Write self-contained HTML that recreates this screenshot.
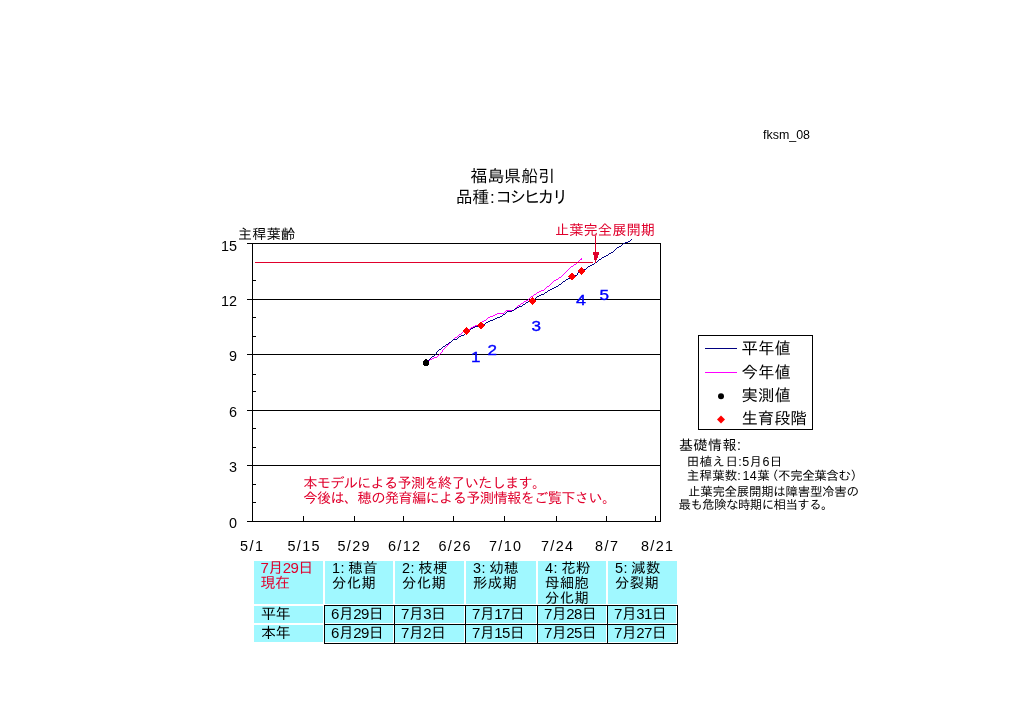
<!DOCTYPE html>
<html lang="ja">
<head>
<meta charset="utf-8">
<title>福島県船引 品種:コシヒカリ 主稈葉齢</title>
<style>
html,body{margin:0;padding:0;background:#fff;}
body{width:1024px;height:724px;overflow:hidden;position:relative;
 font-family:"Liberation Sans","IPAGothic",sans-serif;color:#000;}
svg{position:absolute;left:0;top:0;display:block;}
svg text{font-family:"Liberation Sans","IPAGothic",sans-serif;}
.ln{shape-rendering:crispEdges;stroke:#000;stroke-width:1;fill:none;}
.red{fill:#e0002c;}
.blue{fill:#0000ff;stroke:#0000ff;stroke-width:0.35;}
/* table */
.c{position:absolute;background:#a0f8ff;}
.b{position:absolute;background:#000;}
.t{position:absolute;white-space:nowrap;font-size:15px;line-height:15px;letter-spacing:-0.6px;}
.r{color:#e0002c;}
.n{display:inline-block;width:16.2px;letter-spacing:0.5px;}
.h{font-size:14.4px;letter-spacing:0.4px;}
.d{letter-spacing:-0.55px;margin-left:-1px;}
</style>
</head>
<body>
<svg width="1024" height="724" viewBox="0 0 1024 724">
<rect x="0" y="0" width="1024" height="724" fill="#ffffff"/>

<!-- header texts -->
<text x="763" y="138.6" font-size="12" textLength="47" lengthAdjust="spacingAndGlyphs">fksm_08</text>
<text x="470.5" y="182" font-size="16.8" textLength="84.5">福島県船引</text>
<text y="202.8" font-size="17"><tspan x="455.8" textLength="33.5">品種</tspan><tspan x="490">:</tspan><tspan x="495.6" textLength="73">コシヒカリ</tspan></text>
<text x="238" y="239" font-size="14" textLength="57">主稈葉齢</text>
<text class="red" x="555" y="234.5" font-size="14.3" textLength="100">止葉完全展開期</text>

<!-- grid + frame -->
<g class="ln">
<path d="M247 243.5H660.5M247 299.5H660.5M247 354.5H660.5M247 410.5H660.5M247 465.5H660.5M247 521.5H660.5"/>
<path d="M252.5 243V522M660.5 243V522"/>
<path d="M252 280.5H256M252 317.5H256M252 336.5H256M252 374.5H256M252 391.5H256M252 428.5H256M252 447.5H256M252 484.5H256M252 502.5H256"/>
<path d="M303.5 516V521M354.5 516V521M403.5 516V521M453.5 516V521M504.5 516V521M556.5 516V521M606.5 516V521M655.5 516V521"/>
</g>

<!-- y labels -->
<g font-size="14.4" text-anchor="end">
<text x="237" y="251">15</text>
<text x="237" y="306">12</text>
<text x="237" y="361">9</text>
<text x="237" y="417">6</text>
<text x="237" y="472">3</text>
<text x="237" y="528">0</text>
</g>
<!-- x labels -->
<g font-size="14.4">
<text x="240" y="551" textLength="23">5/1</text>
<text x="287.5" y="551" textLength="32">5/15</text>
<text x="337.5" y="551" textLength="32">5/29</text>
<text x="388" y="551" textLength="32">6/12</text>
<text x="438.5" y="551" textLength="32">6/26</text>
<text x="489" y="551" textLength="32">7/10</text>
<text x="541" y="551" textLength="32">7/24</text>
<text x="595" y="551" textLength="23">8/7</text>
<text x="641" y="551" textLength="32">8/21</text>
</g>

<!-- curves -->
<path class="ln" style="stroke:#ff00ff" d="M581 258.5h1M580 259.5h2M579 260.5h1M578 261.5h1M577 262.5h1M576 263.5h1M574 264.5h2M573 265.5h1M571 266.5h2M570 267.5h1M569 268.5h1M568 269.5h1M567 270.5h1M566 271.5h1M565 272.5h1M564 273.5h1M563 274.5h1M562 275.5h1M561 276.5h1M559 277.5h2M558 278.5h1M556 279.5h2M554 280.5h2M553 281.5h1M552 282.5h1M551 283.5h1M550 284.5h1M549 285.5h1M547 286.5h2M546 287.5h1M545 288.5h1M544 289.5h1M541 290.5h3M539 291.5h2M537 292.5h2M536 293.5h1M534 294.5h2M533 295.5h1M531 296.5h2M530 297.5h1M529 298.5h1M528 299.5h1M526 300.5h2M524 301.5h2M523 302.5h1M521 303.5h2M520 304.5h1M518 305.5h2M517 306.5h1M516 307.5h1M516 308.5h1M514 309.5h2M506 310.5h8M505 311.5h1M504 312.5h1M497 313.5h7M495 314.5h2M493 315.5h2M490 316.5h3M488 317.5h2M487 318.5h1M486 319.5h1M484 320.5h2M482 321.5h2M481 322.5h1M479 323.5h2M478 324.5h1M475 325.5h3M473 326.5h2M471 327.5h2M470 328.5h1M468 329.5h2M465 330.5h3M463 331.5h2M462 332.5h1M461 333.5h1M459 334.5h2M458 335.5h1M457 336.5h1M455 337.5h2M454 338.5h1M453 339.5h1M452 340.5h1M451 341.5h1M450 342.5h1M449 343.5h1M448 344.5h1M447 345.5h1M446 346.5h1M445 347.5h1M444 348.5h1M443 349.5h1M442 350.5h1M442 351.5h1M441 352.5h1M440 353.5h1M439 354.5h1M438 355.5h1M437 356.5h1M434 357.5h3M432 358.5h2M430 359.5h2M428 360.5h2"/>
<path class="ln" style="stroke:#000080" d="M631 239.5h1M630 240.5h1M628 241.5h2M625 242.5h3M623 243.5h2M622 244.5h1M621 245.5h1M619 246.5h2M617 247.5h2M616 248.5h1M615 249.5h1M614 250.5h1M613 251.5h1M611 252.5h2M609 253.5h2M608 254.5h1M606 255.5h2M604 256.5h2M602 257.5h2M601 258.5h1M599 259.5h2M598 260.5h1M597 261.5h1M595 262.5h2M594 263.5h1M592 264.5h2M590 265.5h2M588 266.5h2M587 267.5h1M586 268.5h1M584 269.5h2M582 270.5h2M580 271.5h2M578 272.5h2M577 273.5h1M577 274.5h1M574 275.5h3M572 276.5h2M570 277.5h2M568 278.5h2M566 279.5h2M565 280.5h1M563 281.5h2M562 282.5h1M561 283.5h1M559 284.5h2M558 285.5h1M556 286.5h2M554 287.5h2M552 288.5h2M550 289.5h2M548 290.5h2M547 291.5h1M545 292.5h2M544 293.5h1M541 294.5h3M539 295.5h2M537 296.5h2M536 297.5h1M535 298.5h1M533 299.5h2M530 300.5h3M528 301.5h2M526 302.5h2M525 303.5h1M523 304.5h2M522 305.5h1M519 306.5h3M517 307.5h2M515 308.5h2M514 309.5h1M512 310.5h2M507 311.5h5M506 312.5h1M505 313.5h1M503 314.5h2M502 315.5h1M500 316.5h2M497 317.5h3M495 318.5h2M493 319.5h2M490 320.5h3M488 321.5h2M486 322.5h2M485 323.5h1M483 324.5h2M479 325.5h4M475 326.5h4M473 327.5h2M471 328.5h2M470 329.5h1M469 330.5h1M467 331.5h2M466 332.5h1M465 333.5h1M464 334.5h1M461 335.5h3M459 336.5h2M458 337.5h1M457 338.5h1M453 339.5h4M452 340.5h1M451 341.5h1M449 342.5h2M448 343.5h1M446 344.5h2M445 345.5h1M443 346.5h2M442 347.5h1M441 348.5h1M439 349.5h2M438 350.5h1M437 351.5h1M436 352.5h1M436 353.5h1M435 354.5h1M434 355.5h1M432 356.5h2M431 357.5h1M430 358.5h1M429 359.5h1M428 360.5h1"/>

<!-- red threshold line + arrow -->
<path class="ln" style="stroke:#e0002c" d="M255 262.5H593M595.5 236V263"/>
<path shape-rendering="crispEdges" d="M593 252h6v3h-1v3h-1v2h-1v2h-1v-2h-1v-2v-3h-1z" fill="#e0002c"/>

<!-- markers -->
<path shape-rendering="crispEdges" fill="#000" d="M425 359h2v1h1v1h1v4h-1v1h-4v-1h-1v-4h1v-1h1z"/>
<g fill="#ff0000" shape-rendering="crispEdges">
<path d="M466 327l4 4-4 4-4-4z"/>
<path d="M481 321.5l4 4-4 4-4-4z"/>
<path d="M532 297l4 4-4 4-4-4z"/>
<path d="M572 272.5l4 4-4 4-4-4z"/>
<path d="M581.5 266.8l4.3 4.2-4.3 4.2-4.3-4.2z"/>
</g>
<g class="blue" font-size="14">
<text x="471" y="362" textLength="9.5" lengthAdjust="spacingAndGlyphs">1</text>
<text x="487.5" y="355" textLength="9.5" lengthAdjust="spacingAndGlyphs">2</text>
<text x="531.5" y="331" textLength="9.5" lengthAdjust="spacingAndGlyphs">3</text>
<text x="576" y="305" textLength="10" lengthAdjust="spacingAndGlyphs">4</text>
<text x="599.5" y="300" textLength="9.5" lengthAdjust="spacingAndGlyphs">5</text>
</g>

<!-- in-plot message -->
<text class="red" x="303.3" y="488.3" font-size="14.3" textLength="243">本モデルによる予測を終了いたします。</text>
<text class="red" x="303.3" y="503.3" font-size="14.3" textLength="313">今後は、穂の発育編による予測情報をご覧下さい。</text>

<!-- legend -->
<rect class="ln" x="698.5" y="335.5" width="114" height="94" fill="#fff"/>
<path class="ln" style="stroke:#000080" d="M705 348.5H737"/>
<path class="ln" style="stroke:#ff00ff" d="M705 372.5H737"/>
<circle cx="721" cy="396.3" r="3" fill="#000"/>
<path d="M721 415.5l4 4-4 4-4-4z" fill="#ff0000"/>
<g font-size="16.4">
<text x="741.5" y="353.5" textLength="49.5">平年値</text>
<text x="741.5" y="377.5" textLength="49.5">今年値</text>
<text x="741.5" y="401.1" textLength="49.5">実測値</text>
<text x="741.5" y="424" textLength="65.5">生育段階</text>
</g>

<!-- info -->
<text x="679" y="450" font-size="14" textLength="62">基礎情報:</text>
<g font-size="12.5">
<text x="686.8" y="466" textLength="95.5">田植え日:5月6日</text>
<text y="479.8"><tspan x="686.8" textLength="50.5">主稈葉数</tspan><tspan x="737.2">:</tspan><tspan x="742.6" textLength="14">14</tspan><tspan x="757.3">葉</tspan><tspan x="766" textLength="97">（不完全葉含む）</tspan></text>
<text x="688" y="496" textLength="171">止葉完全展開期は障害型冷害の</text>
<text x="678.5" y="509" textLength="155">最も危険な時期に相当する。</text>
</g>
</svg>

<!-- table -->
<div class="c" style="left:254px;top:561px;width:69px;height:43px"></div>
<div class="c" style="left:325px;top:561px;width:68px;height:43px"></div>
<div class="c" style="left:395px;top:561px;width:69px;height:43px"></div>
<div class="c" style="left:466px;top:561px;width:70px;height:43px"></div>
<div class="c" style="left:538px;top:561px;width:68px;height:43px"></div>
<div class="c" style="left:608px;top:561px;width:69px;height:43px"></div>
<div class="c" style="left:254px;top:606px;width:69px;height:17px"></div>
<div class="c" style="left:254px;top:625px;width:69px;height:17px"></div>
<div class="c" style="left:325px;top:606px;width:68px;height:17px"></div>
<div class="c" style="left:325px;top:625px;width:68px;height:17px"></div>
<div class="c" style="left:395px;top:606px;width:69px;height:17px"></div>
<div class="c" style="left:395px;top:625px;width:69px;height:17px"></div>
<div class="c" style="left:466px;top:606px;width:70px;height:17px"></div>
<div class="c" style="left:466px;top:625px;width:70px;height:17px"></div>
<div class="c" style="left:538px;top:606px;width:68px;height:17px"></div>
<div class="c" style="left:538px;top:625px;width:68px;height:17px"></div>
<div class="c" style="left:608px;top:606px;width:68px;height:17px"></div>
<div class="c" style="left:608px;top:625px;width:68px;height:17px"></div>
<div class="b" style="left:324px;top:605px;width:1px;height:39px"></div>
<div class="b" style="left:394px;top:605px;width:1px;height:39px"></div>
<div class="b" style="left:465px;top:605px;width:1px;height:39px"></div>
<div class="b" style="left:537px;top:605px;width:1px;height:39px"></div>
<div class="b" style="left:607px;top:605px;width:1px;height:39px"></div>
<div class="b" style="left:677px;top:605px;width:1px;height:39px"></div>
<div class="b" style="left:324px;top:605px;width:354px;height:1px"></div>
<div class="b" style="left:324px;top:624px;width:354px;height:1px"></div>
<div class="b" style="left:324px;top:643px;width:354px;height:1px"></div>
<div class="t r" style="left:260.5px;top:560px">7月29日<br>現在</div>
<div class="t" style="left:261px;top:606px">平年</div>
<div class="t" style="left:261px;top:625px">本年</div>
<div class="t h" style="left:332px;top:560.5px"><span class="n">1:</span>穂首<br>分化期</div>
<div class="t d" style="left:332px;top:606px">6月29日</div>
<div class="t d" style="left:332px;top:625px">6月29日</div>
<div class="t h" style="left:402px;top:560.5px"><span class="n">2:</span>枝梗<br>分化期</div>
<div class="t d" style="left:402px;top:606px">7月3日</div>
<div class="t d" style="left:402px;top:625px">7月2日</div>
<div class="t h" style="left:473px;top:560.5px"><span class="n">3:</span>幼穂<br>形成期</div>
<div class="t d" style="left:473px;top:606px">7月17日</div>
<div class="t d" style="left:473px;top:625px">7月15日</div>
<div class="t h" style="left:545px;top:560.5px"><span class="n">4:</span>花粉<br>母細胞<br>分化期</div>
<div class="t d" style="left:545px;top:606px">7月28日</div>
<div class="t d" style="left:545px;top:625px">7月25日</div>
<div class="t h" style="left:615px;top:560.5px"><span class="n">5:</span>減数<br>分裂期</div>
<div class="t d" style="left:615px;top:606px">7月31日</div>
<div class="t d" style="left:615px;top:625px">7月27日</div>
</body>
</html>
